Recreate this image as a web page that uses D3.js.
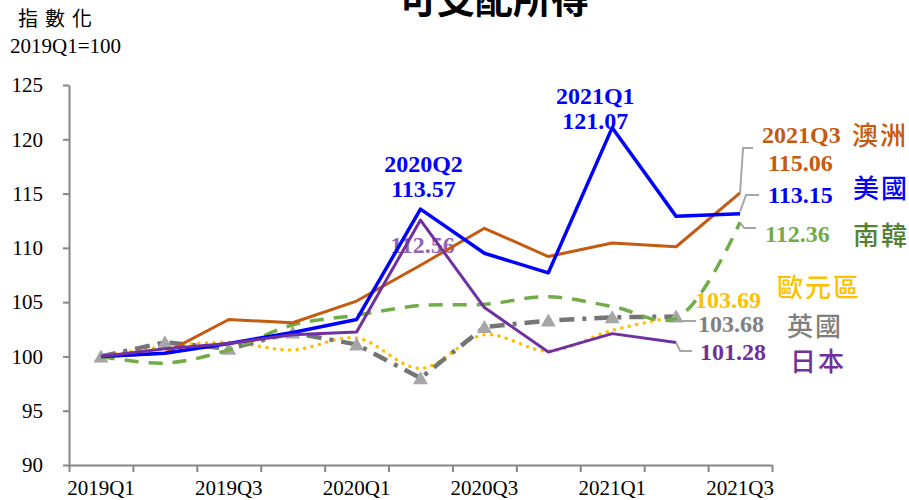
<!DOCTYPE html>
<html>
<head>
<meta charset="utf-8">
<script src="https://cdn.jsdelivr.net/npm/d3@7"></script>
<style>
  body { margin: 0; background: #fff; }
  svg { display: block; }
  .axis path, .axis line { stroke: #868686; stroke-width: 2; }
  .axis text { font-family: "Liberation Serif", serif; font-size: 21px; fill: #000; }
  .num { font-family: "Liberation Serif", serif; font-weight: bold; font-size: 24px; }
  .cjk { font-family: "Noto Sans CJK TC", sans-serif; font-weight: 500; font-size: 26px; letter-spacing: 2px; }
</style>
</head>
<body>
<svg id="chart" width="909" height="500"></svg>
<script>
// quarters and index values (2019Q1 = 100)
var quarters = ["2019Q1", "2019Q2", "2019Q3", "2019Q4", "2020Q1", "2020Q2",
                "2020Q3", "2020Q4", "2021Q1", "2021Q2", "2021Q3"];
var australia = [100, 100.3, 103.4, 103.1, 105.1, 108.4, 111.8, 109.2, 110.45, 110.1, 115.06];
var usa       = [100, 100.3, 101.2, 102.2, 103.4, 113.57, 109.5, 107.7, 121.07, 112.9, 113.15];
var korea     = [100, 99.39, 100.6, 102.9, 103.8, 104.7, 104.8, 105.5, 104.6, 103.5, 112.36];
var euro      = [100, 100.9, 101.3, 100.6, 101.7, 98.9, 102.0, 100.5, 102.4, 103.69];
var uk        = [100, 101.3, 100.7, 102.2, 101.1, 98.0, 102.7, 103.3, 103.6, 103.68];
var japan     = [100, 100.7, 101.2, 102.0, 102.25, 112.56, 104.5, 100.4, 102.1, 101.28];
var yTicks = [90, 95, 100, 105, 110, 115, 120, 125];
var xLabels = ["2019Q1", "2019Q3", "2020Q1", "2020Q3", "2021Q1", "2021Q3"];

var svg = d3.select("#chart");
var plotLeft = 69, plotRight = 772, plotTop = 85, plotBottom = 465;

var x = d3.scaleBand().domain(quarters).range([plotLeft, plotRight]).padding(0);
var xb = d3.scaleLinear().domain([0, quarters.length]).range([plotLeft, plotRight]);
var y = d3.scaleLinear().domain([90, 125]).range([plotBottom, plotTop]);
var cx = function (i) { return x(quarters[i]) + x.bandwidth() / 2; };

// title (cut off at the top edge)
svg.append("text")
    .attr("x", 494).attr("y", 13)
    .attr("text-anchor", "middle")
    .attr("font-family", "Noto Sans CJK TC")
    .attr("font-weight", 700)
    .attr("font-size", 38)
    .text("可支配所得");

svg.append("text")
    .attr("x", 18).attr("y", 26)
    .attr("font-family", "Noto Sans CJK TC")
    .attr("font-size", 20)
    .attr("letter-spacing", 7)
    .text("指數化");

svg.append("text")
    .attr("x", 10).attr("y", 53)
    .attr("font-family", "Liberation Serif")
    .attr("font-size", 21)
    .text("2019Q1=100");

// axes
svg.append("g")
    .attr("class", "axis")
    .attr("transform", "translate(" + plotLeft + ",0)")
    .call(d3.axisLeft(y).tickValues(yTicks).tickSize(6).tickPadding(20).tickSizeOuter(0));

svg.append("g")
    .attr("class", "axis")
    .attr("transform", "translate(0," + plotBottom + ")")
    .call(d3.axisBottom(xb).ticks(quarters.length).tickFormat("").tickSize(7).tickSizeOuter(0));

svg.append("g")
    .attr("class", "axis")
    .attr("transform", "translate(0," + plotBottom + ")")
    .call(d3.axisBottom(x).tickValues(xLabels).tickSize(0).tickPadding(15))
    .select(".domain").remove();

// label behind the lines
svg.append("text").attr("class", "num")
    .attr("x", cx(5) + 2).attr("y", 253)
    .attr("text-anchor", "middle")
    .attr("fill", "#7030a0").attr("opacity", 0.75)
    .text("112.56");

var series = [
    { values: euro, color: "#ffc000", width: 3.5, dash: "0.1,7.5", cap: "round", curve: d3.curveCatmullRom },
    { values: uk, color: "#757575", width: 4.5, dash: "15,8,4,8", cap: "butt", curve: d3.curveLinear, marker: true },
    { values: korea, color: "#70ad47", width: 3.5, dash: "14,10", cap: "butt", curve: d3.curveCatmullRom },
    { values: australia, color: "#c55a11", width: 3, curve: d3.curveLinear },
    { values: usa, color: "#0000ff", width: 3.5, curve: d3.curveLinear },
    { values: japan, color: "#7030a0", width: 3, curve: d3.curveLinear }
];

series.forEach(function (s) {
    var line = d3.line()
        .x(function (d, i) { return cx(i); })
        .y(function (d) { return y(d); })
        .curve(s.curve);
    svg.append("path")
        .datum(s.values)
        .attr("fill", "none")
        .attr("stroke", s.color)
        .attr("stroke-width", s.width)
        .attr("stroke-dasharray", s.dash || null)
        .attr("stroke-linecap", s.cap || "butt")
        .attr("stroke-linejoin", "round")
        .attr("d", line);
    if (s.marker) {
        svg.append("g").selectAll("path")
            .data(s.values)
            .enter().append("path")
            .attr("fill", "#a6a6a6")
            .attr("transform", function (d, i) { return "translate(" + cx(i) + "," + y(d) + ")"; })
            .attr("d", "M0,-7L7.5,6L-7.5,6Z");
    }
});

// leader lines
var lastX = cx(10), prevX = cx(9);
var leader = function (pts) {
    svg.append("path")
        .attr("fill", "none")
        .attr("stroke", "#a6a6a6")
        .attr("stroke-width", 2)
        .attr("d", d3.line()(pts));
};
leader([[lastX, y(australia[10])], [lastX + 3, 148], [lastX + 13, 148]]);
leader([[lastX, y(usa[10]) - 2], [lastX + 6, 195], [lastX + 19, 195]]);
leader([[lastX, y(korea[10])], [lastX + 4, 228], [lastX + 16, 228]]);
leader([[prevX, y(uk[9])], [prevX + 5, 321], [prevX + 20, 321]]);
leader([[prevX, y(japan[9])], [prevX + 4, 351], [prevX + 16, 351]]);

// text labels
var label = function (cls, tx, ty, color, txt, anchor) {
    svg.append("text").attr("class", cls)
        .attr("x", tx).attr("y", ty)
        .attr("fill", color)
        .attr("text-anchor", anchor || "start")
        .text(txt);
};
label("num", 762, 143, "#c55a11", "2021Q3");
label("cjk", 852, 145, "#c55a11", "澳洲");
label("num", 768, 171, "#c55a11", australia[10].toFixed(2));
label("num", 768, 203, "#0000ff", usa[10].toFixed(2));
label("cjk", 853, 198, "#0000ff", "美國");
label("num", 765, 242, "#70ad47", korea[10].toFixed(2));
label("cjk", 853, 245, "#548235", "南韓");
label("cjk", 777, 297, "#ffc000", "歐元區");
label("num", 695, 308, "#ffc000", euro[9].toFixed(2));
label("num", 698, 332, "#808080", uk[9].toFixed(2));
label("cjk", 787, 336, "#7f7f7f", "英國");
label("num", 700, 360, "#7030a0", japan[9].toFixed(2));
label("cjk", 790, 371, "#7030a0", "日本");

label("num", cx(5) + 3, 172, "#0000ff", "2020Q2", "middle");
label("num", cx(5) + 3, 197, "#0000ff", usa[5].toFixed(2), "middle");
label("num", cx(8) - 17, 104, "#0000ff", "2021Q1", "middle");
label("num", cx(8) - 17, 129, "#0000ff", usa[8].toFixed(2), "middle");
</script>
</body>
</html>
